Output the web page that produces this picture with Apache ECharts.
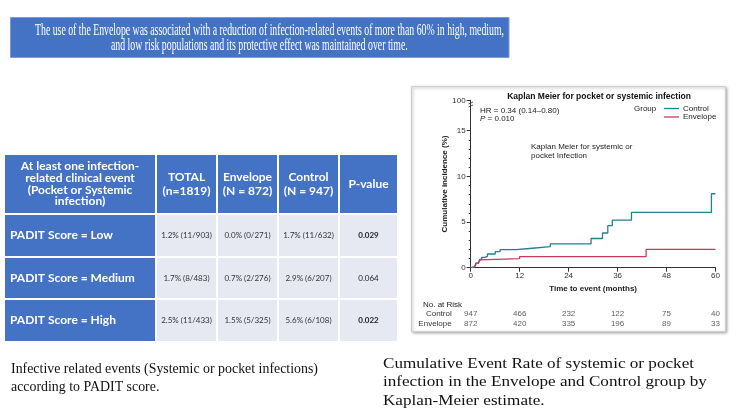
<!DOCTYPE html>
<html><head><meta charset="utf-8">
<script src="https://cdn.jsdelivr.net/npm/echarts@6/dist/echarts.min.js"></script>
<style>html,body{margin:0;padding:0;background:#fff}#c{width:745px;height:419px}</style>
</head><body><div id="c"></div>
<script>
// ---------- data ----------
const bannerLines = [
  'The use of the Envelope was associated with a reduction of infection-related events of more than 60% in high, medium,',
  'and low risk populations and its protective effect was maintained over time.'
];
const tableHeader = ['At least one infection-\nrelated clinical event\n(Pocket or Systemic\ninfection)', 'TOTAL\n(n=1819)', 'Envelope\n(N = 872)', 'Control\n(N = 947)', 'P-value'];
const rowLabels = ['PADIT Score = Low', 'PADIT Score = Medium', 'PADIT Score = High'];
const totalVals = ['1.2% (11/903)', '1.7% (8/483)', '2.5% (11/433)'];
const envelopeVals = ['0.0% (0/271)', '0.7% (2/276)', '1.5% (5/325)'];
const controlVals = ['1.7% (11/632)', '2.9% (6/207)', '5.6% (6/108)'];
const pValues = ['0.029', '0.064', '0.022'];
const pBold = [true, false, true];
const leftCaption = ['Infective related events (Systemic or pocket infections)', 'according to PADIT score.'];
const rightCaption = ['Cumulative Event Rate of systemic or pocket', 'infection in the Envelope and Control group by', 'Kaplan-Meier estimate.'];

const kmTitle = 'Kaplan Meier for pocket or systemic infection';
const controlTime = [0, 0.4, 0.9, 1.3, 1.8, 2.2, 2.7, 3.5, 4.1, 6.0, 7.2, 11.1, 14.4, 19.5, 29.5, 32.3, 33.6, 34.7, 39.4, 59.0, 60];
const controlCum  = [0, 0.1, 0.3, 0.5, 0.7, 0.9, 1.13, 1.25, 1.5, 1.75, 1.97, 2.1, 2.3, 2.6, 3.2, 3.8, 4.6, 5.2, 6.05, 8.1, 8.1];
const envelopeTime = [0, 0.5, 1.0, 1.4, 1.9, 2.3, 2.7, 12.0, 43.0, 60];
const envelopeCum  = [0, 0.1, 0.3, 0.5, 0.7, 0.85, 1.0, 1.22, 2.0, 2.0];
const yTopLabel = '100';
const xTicks = [0, 12, 24, 36, 48, 60];
const riskGroups = ['Envelope', 'Control'];
const riskTimes = [0, 12, 24, 36, 48, 60];
const controlRisk = [947, 466, 232, 122, 75, 40];
const envelopeRisk = [872, 420, 335, 196, 89, 33];
const hrText = 'HR = 0.34 (0.14\u20130.80)';
const pText = '0.010';
const noteText = 'Kaplan Meier for systemic or\npocket Infection';

// ---------- helpers ----------
const mctx = document.createElement('canvas').getContext('2d');
function tw(text, font) { mctx.font = font; return mctx.measureText(text).width; }

const BLUE = '#4472C4';
const CELL = '#E7E9F2';
const C_CTRL = '#23808F';
const C_ENV = '#C93A5C';
const SERIF = '"Liberation Serif", "Times New Roman", serif';
const SANS = '"Liberation Sans", Arial, sans-serif';
const TBL = 'Lato, "Open Sans", sans-serif';

const G = [];
function txt(text, x, y, font, fill, align, vAlign, extra) {
  return { type: 'text', x: x, y: y, silent: true,
    style: Object.assign({ text: text, x: 0, y: 0, font: font, fill: fill,
      align: align || 'left', verticalAlign: vAlign || 'middle',
      textAlign: align || 'left', textVerticalAlign: vAlign || 'middle' }, extra || {}) };
}

// banner
G.push({ type: 'rect', silent: true, shape: { x: 10.5, y: 17.5, width: 498.5, height: 40 },
  style: { fill: BLUE, stroke: '#7E9BD6', lineWidth: 1 } });
const bFont = '17px ' + SERIF;
const bScale = (504 - 35) / tw(bannerLines[0], bFont);
[ [bannerLines[0], 35, 31], [bannerLines[1], 111, 46] ].forEach(function (b) {
  const el = txt(b[0], b[1], b[2], bFont, '#fff', 'left', 'middle');
  el.scaleX = bScale; G.push(el);
});

// table
const colEdges = [[5, 155], [157, 216], [218, 277], [279, 338], [340, 397]];
const rowEdges = [[155, 213], [215, 256], [258, 298], [300, 341]];
const hFont = 'bold 12px ' + TBL;
colEdges.forEach(function (c, ci) {
  G.push({ type: 'rect', silent: true, shape: { x: c[0], y: rowEdges[0][0], width: c[1] - c[0], height: rowEdges[0][1] - rowEdges[0][0] }, style: { fill: BLUE } });
  G.push(txt(tableHeader[ci], (c[0] + c[1]) / 2, (rowEdges[0][0] + rowEdges[0][1]) / 2, hFont, '#fff', 'center', 'middle', { lineHeight: ci === 0 ? 11.7 : 13.4 }));
});
const dataCols = [totalVals, envelopeVals, controlVals];
for (let r = 0; r < 3; r++) {
  const re = rowEdges[r + 1];
  const cy = (re[0] + re[1]) / 2;
  colEdges.forEach(function (c, ci) {
    G.push({ type: 'rect', silent: true, shape: { x: c[0], y: re[0], width: c[1] - c[0], height: re[1] - re[0] }, style: { fill: ci === 0 ? BLUE : CELL } });
  });
  G.push(txt(rowLabels[r], 10, cy, 'bold 12px ' + TBL, '#fff', 'left', 'middle'));
  for (let k = 0; k < 3; k++) {
    const c = colEdges[k + 1];
    G.push(txt(dataCols[k][r], (c[0] + c[1]) / 2, cy, '8px ' + TBL, '#333', 'center', 'middle'));
  }
  const pc = colEdges[4];
  G.push(txt(pValues[r], (pc[0] + pc[1]) / 2, cy, (pBold[r] ? 'bold ' : '') + '8px ' + TBL, '#222', 'center', 'middle'));
}

// captions
const cFont = '15px ' + SERIF;
const lScale = (318 - 11) / tw(leftCaption[0], cFont);
[[leftCaption[0], 369], [leftCaption[1], 387.5]].forEach(function (l) {
  const el = txt(l[0], 11, l[1], cFont, '#111', 'left', 'middle'); el.scaleX = lScale; G.push(el);
});
const rScale = (694 - 383) / tw(rightCaption[0], cFont);
[[rightCaption[0], 364], [rightCaption[1], 382.5], [rightCaption[2], 401]].forEach(function (l) {
  const el = txt(l[0], 383, l[1], cFont, '#111', 'left', 'middle'); el.scaleX = rScale; G.push(el);
});

// KM panel frame
G.push({ type: 'rect', silent: true, z: -10, shape: { x: 411.5, y: 86.5, width: 314, height: 245 },
  style: { fill: '#fff', stroke: '#cfcfcf', lineWidth: 1, shadowBlur: 3, shadowOffsetX: 1, shadowOffsetY: 1, shadowColor: 'rgba(0,0,0,0.35)' } });
G.push(txt(kmTitle, 599, 96.5, 'bold 8.5px ' + SANS, '#111', 'center', 'middle'));
G.push(txt(hrText, 480, 110.5, '8px ' + SANS, '#222', 'left', 'middle'));
G.push(txt('{i|P} = ' + pText, 480, 119, '8px ' + SANS, '#222', 'left', 'middle', { rich: { i: { fontStyle: 'italic', fontSize: 8, fontFamily: SANS } } }));
G.push(txt(noteText, 531, 151.5, '8px ' + SANS, '#222', 'left', 'middle', { lineHeight: 9 }));
G.push(txt('Group', 634, 109, '8px ' + SANS, '#222', 'left', 'middle'));
G.push(txt('No. at Risk', 423, 304.5, '8px ' + SANS, '#222', 'left', 'middle'));
// axis break mark
G.push({ type: 'polyline', silent: true, shape: { points: [[468.5, 104], [473, 102]] }, style: { stroke: '#333', lineWidth: 0.8, fill: null } });
G.push({ type: 'polyline', silent: true, shape: { points: [[468.5, 107], [473, 105]] }, style: { stroke: '#333', lineWidth: 0.8, fill: null } });

// ---------- chart ----------
const yTop = 18.33;
const axisTxt = { fontSize: 8, color: '#333', fontFamily: SANS };
function riskSeries(name, vals) {
  return { name: 'risk' + name, type: 'scatter', xAxisIndex: 1, yAxisIndex: 1, symbolSize: 1, silent: true,
    itemStyle: { color: 'rgba(0,0,0,0)' },
    data: riskTimes.map(function (t, i) { return [t, name, vals[i]]; }),
    label: Object.assign({ show: true, position: 'inside', formatter: function (p) { return String(p.value[2]); } }, axisTxt),
    labelLayout: { hideOverlap: false } };
}
const option = {
  animation: false,
  backgroundColor: '#fff',
  legend: { data: ['Control', 'Envelope'], orient: 'vertical', left: 659, top: 99.5, icon: 'rect', itemWidth: 15, itemHeight: 1.3, itemGap: 0.5,
    textStyle: { fontSize: 8, color: '#222', fontFamily: SANS, padding: [0, 0, 0, -1] }, selectedMode: false },
  grid: [
    { left: 470.7, right: 29.5, top: 100.3, bottom: 151.3 },
    { left: 470.7, right: 29.5, top: 308.3, height: 20 },
    { left: 470.7, right: 29.5, top: 130.7, bottom: 151.3 }
  ],
  xAxis: [
    { gridIndex: 0, type: 'value', min: xTicks[0], max: xTicks[xTicks.length - 1], interval: 12,
      axisLine: { show: true, lineStyle: { color: '#333', width: 1 } }, axisTick: { show: true, length: 4, lineStyle: { color: '#333' } },
      axisLabel: Object.assign({ margin: 4 }, axisTxt), splitLine: { show: false },
      name: 'Time to event (months)', nameLocation: 'middle', nameGap: 17,
      nameTextStyle: { fontWeight: 'bold', fontSize: 8, color: '#222', fontFamily: SANS } },
    { gridIndex: 1, type: 'value', min: 0, max: 60, show: false },
    { gridIndex: 2, type: 'value', min: 0, max: 60, show: false }
  ],
  yAxis: [
    { gridIndex: 0, type: 'value', min: 0, max: yTop, interval: 5,
      axisLine: { show: true, lineStyle: { color: '#333', width: 1 } }, axisTick: { show: true, length: 4, lineStyle: { color: '#333' } },
      axisLabel: Object.assign({ margin: 5, showMaxLabel: true, formatter: function (v) { return v > 16 ? yTopLabel : String(v); } }, axisTxt),
      splitLine: { show: false },
      name: 'Cumulative incidence (%)', nameLocation: 'middle', nameGap: 18, nameRotate: 90,
      nameTextStyle: { fontWeight: 'bold', fontSize: 8, color: '#222', fontFamily: SANS } },
    { gridIndex: 1, type: 'category', data: riskGroups, axisLine: { show: false }, axisTick: { show: false },
      axisLabel: Object.assign({ margin: 19, interval: 0, hideOverlap: false }, axisTxt) },
    { gridIndex: 2, type: 'value', min: 0, max: 15, interval: 1, axisLine: { show: false },
      axisTick: { show: true, length: 2, lineStyle: { color: '#333' } }, axisLabel: { show: false }, splitLine: { show: false } }
  ],
  series: [
    { name: 'Control', type: 'line', step: 'end', symbol: 'none', xAxisIndex: 0, yAxisIndex: 0, color: C_CTRL,
      data: controlTime.map(function (t, i) { return [t, controlCum[i]]; }), lineStyle: { color: C_CTRL, width: 1.3 }, itemStyle: { color: C_CTRL } },
    { name: 'Envelope', type: 'line', step: 'end', symbol: 'none', xAxisIndex: 0, yAxisIndex: 0, color: C_ENV,
      data: envelopeTime.map(function (t, i) { return [t, envelopeCum[i]]; }), lineStyle: { color: C_ENV, width: 1.3 }, itemStyle: { color: C_ENV } },
    riskSeries('Control', controlRisk),
    riskSeries('Envelope', envelopeRisk)
  ],
  graphic: G
};
const chart = echarts.init(document.getElementById('c'));
chart.setOption(option);
</script></body></html>
